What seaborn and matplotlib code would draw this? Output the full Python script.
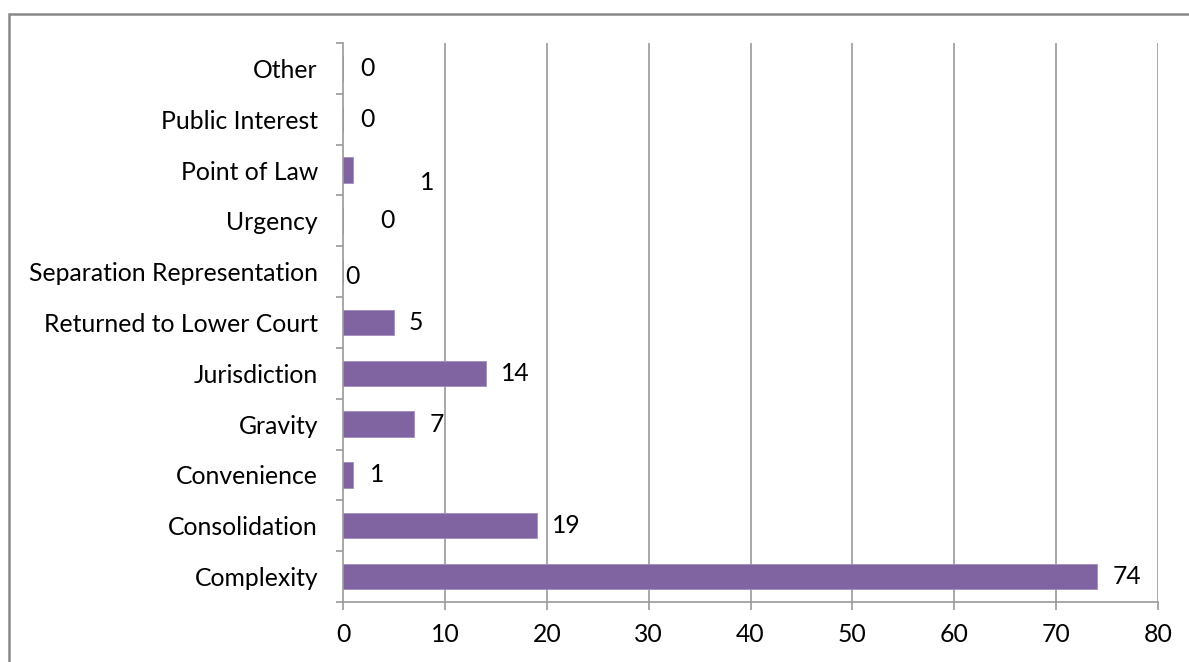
import matplotlib
matplotlib.use("Agg")
import matplotlib.pyplot as plt
import seaborn as sns
import pandas as pd
from matplotlib.patches import Rectangle

categories = ["Other", "Public Interest", "Point of Law", "Urgency",
              "Separation Representation", "Returned to Lower Court",
              "Jurisdiction", "Gravity", "Convenience", "Consolidation",
              "Complexity"]
values = [0, 0, 1, 0, 0, 5, 14, 7, 1, 19, 74]
x_ticks = [0, 10, 20, 30, 40, 50, 60, 70, 80]

# label offsets (pixels) relative to bar end / centre, as in the original
label_dx = [17, 17, 67, 37, 2, 15, 15, 15, 17, 15, 16]
label_dy = [0, 0, -12, 0, -5, 0, 0, 0, 0, 0, 0]

sns.set_theme(style="white")
plt.rcParams["font.family"] = ["Lato", "DejaVu Sans"]

FS = 17.8

df = pd.DataFrame({"cat": categories, "val": values})

fig = plt.figure(figsize=(11.89, 6.62), dpi=100)
ax = fig.add_axes([343 / 1189, 1 - 602 / 662, (1158 - 343) / 1189, (602 - 43) / 662])

sns.barplot(data=df, x="val", y="cat", orient="h", color="#8064A2",
            width=0.5, saturation=1, edgecolor="#A08CBC", linewidth=0.6,
            ax=ax, zorder=3)

ax.set_xlim(0, 80)
ax.set_ylim(len(categories) - 0.5, -0.5)
ax.set_xticks(x_ticks)
ax.set_xlabel("")
ax.set_ylabel("")
for x in x_ticks[1:]:
    ax.axvline(x, color="#999999", lw=1.2, zorder=1)

for s in ["top", "right"]:
    ax.spines[s].set_visible(False)
for s in ["left", "bottom"]:
    ax.spines[s].set_color("#999999")
    ax.spines[s].set_linewidth(1.2)

ax.tick_params(axis="x", which="major", length=6, width=1.2, color="#999999",
               pad=9, labelsize=FS, labelcolor="black", bottom=True)
ax.tick_params(axis="y", which="major", length=0, pad=18, labelsize=FS,
               labelcolor="black")
ax.set_yticks([i + 0.5 for i in range(-1, len(categories))], minor=True)
ax.tick_params(axis="y", which="minor", length=5, width=1.2, color="#999999", left=True)

for i, (v, dx, dy) in enumerate(zip(values, label_dx, label_dy)):
    ax.annotate(str(v), xy=(v, i), xytext=(dx * 0.72, dy * 0.72),
                textcoords="offset points", ha="left", va="center",
                fontsize=FS, color="black")

fig.add_artist(Rectangle((9 / 1189, -0.05), 1.1, 1 - 14 / 662 + 0.05,
                         transform=fig.transFigure, fill=False,
                         edgecolor="#888888", lw=1.8))

fig.savefig("out.png", dpi=100)
